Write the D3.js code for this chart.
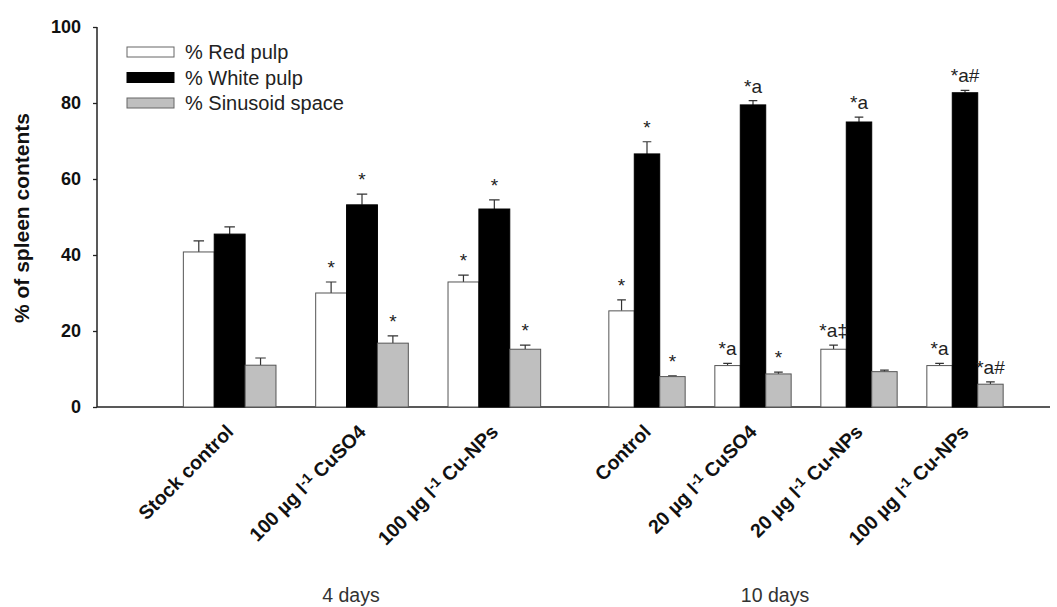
<!DOCTYPE html>
<html>
<head>
<meta charset="utf-8">
<script src="https://cdn.jsdelivr.net/npm/d3@7"></script>
<style>
  body { margin: 0; background: #fff; }
  svg { font-family: "Liberation Sans", Arial, sans-serif; }
</style>
</head>
<body>
<div id="chart"></div>
<script>
/// DATA ///
const categories = [
  "Stock control", "100 µg l-1 CuSO4", "100 µg l-1 Cu-NPs",
  "Control", "20 µg l-1 CuSO4", "20 µg l-1 Cu-NPs", "100 µg l-1 Cu-NPs"
];
const periods = ["4 days", "10 days"];
const periodOf = [0, 0, 0, 1, 1, 1, 1];

const seriesNames = ["% Red pulp", "% White pulp", "% Sinusoid space"];
const redPulp = [40.8, 30.0, 32.9, 25.3, 10.9, 15.2, 10.9];
const redPulpErr = [2.9, 2.9, 1.8, 2.9, 0.6, 1.1, 0.6];
const whitePulp = [45.5, 53.2, 52.1, 66.6, 79.5, 75.0, 82.7];
const whitePulpErr = [1.9, 2.8, 2.4, 3.2, 1.1, 1.3, 0.6];
const sinusoid = [11.0, 16.8, 15.2, 8.0, 8.7, 9.3, 6.0];
const sinusoidErr = [1.9, 1.9, 1.1, 0.2, 0.5, 0.4, 0.6];

const redPulpMarks = ["", "*", "*", "*", "*a", "*a‡", "*a"];
const whitePulpMarks = ["", "*", "*", "*", "*a", "*a", "*a#"];
const sinusoidMarks = ["", "*", "*", "*", "*", "", "*a#"];

const yTicks = [0, 20, 40, 60, 80, 100];

const keys = ["red", "white", "sinus"];
const values = { red: redPulp, white: whitePulp, sinus: sinusoid };
const errs = { red: redPulpErr, white: whitePulpErr, sinus: sinusoidErr };
const marks = { red: redPulpMarks, white: whitePulpMarks, sinus: sinusoidMarks };
const fills = { red: "#ffffff", white: "#000000", sinus: "#bfbfbf" };

const W = 1057, H = 607;

const svg = d3
  .select("#chart")
  .append("svg")
  .attr("width", W)
  .attr("height", H);

// y scale
const y = d3.scaleLinear().domain([0, 100]).range([407, 27]);

// two separate band scales, one per period block
const idx4 = categories.map((c, i) => i).filter((i) => periodOf[i] === 0);
const idx10 = categories.map((c, i) => i).filter((i) => periodOf[i] === 1);

const x4 = d3
  .scaleBand()
  .domain(idx4)
  .range([163.5, 560.5])
  .paddingInner(0.3)
  .paddingOuter(0.15);

const x10 = d3
  .scaleBand()
  .domain(idx10)
  .range([594, 1018])
  .paddingInner(0.28)
  .paddingOuter(0.14);

const xScaleFor = (i) => (periodOf[i] === 0 ? x4 : x10);

// y axis
const yAxis = svg
  .append("g")
  .attr("transform", "translate(97,0)")
  .call(d3.axisLeft(y).tickValues(yTicks).tickSize(4).tickPadding(12));
yAxis.select(".domain").attr("stroke", "#222").attr("stroke-width", 1.5).attr("d", `M0,${y(100)}V${y(0)}`);
yAxis.selectAll(".tick line").attr("stroke", "#222").attr("stroke-width", 1.3);
yAxis
  .selectAll("text")
  .style("font-size", "18px")
  .style("font-weight", "bold")
  .attr("fill", "#111");

// x baseline
svg
  .append("line")
  .attr("x1", 97)
  .attr("x2", 1050)
  .attr("y1", y(0))
  .attr("y2", y(0))
  .attr("stroke", "#222")
  .attr("stroke-width", 1.5);

// y label
svg
  .append("text")
  .attr("transform", `translate(29,218) rotate(-90)`)
  .attr("text-anchor", "middle")
  .style("font-size", "21px")
  .style("font-weight", "bold")
  .attr("fill", "#111")
  .text("% of spleen contents");

// bars
const bars = [];
categories.forEach((c, i) => {
  const xs = xScaleFor(i);
  const x1 = d3.scaleBand().domain(keys).range([0, xs.bandwidth()]);
  keys.forEach((k) => {
    bars.push({
      key: k,
      x: xs(i) + x1(k),
      w: x1.bandwidth(),
      value: values[k][i],
      err: errs[k][i],
      mark: marks[k][i],
    });
  });
});

const barG = svg.append("g");

// error bars (drawn first so bar covers lower half)
barG
  .selectAll("path.err")
  .data(bars)
  .join("path")
  .attr("class", "err")
  .attr("fill", "none")
  .attr("stroke", "#333")
  .attr("stroke-width", 1.2)
  .attr("d", (d) => {
    const cx = d.x + d.w / 2;
    const half = d.w * 0.17;
    return `M${cx},${y(d.value)}V${y(d.value + d.err)}M${cx - half},${y(d.value + d.err)}H${cx + half}`;
  });

barG
  .selectAll("rect")
  .data(bars)
  .join("rect")
  .attr("x", (d) => d.x)
  .attr("y", (d) => y(d.value))
  .attr("width", (d) => d.w)
  .attr("height", (d) => y(0) - y(d.value))
  .attr("fill", (d) => fills[d.key])
  .attr("stroke", (d) => (d.key === "white" ? "#000" : "#555"))
  .attr("stroke-width", 1);

// significance marks
barG
  .selectAll("text.mark")
  .data(bars.filter((d) => d.mark))
  .join("text")
  .attr("class", "mark")
  .attr("x", (d) => d.x + d.w / 2)
  .attr("y", (d) => y(d.value + d.err) - 8)
  .attr("text-anchor", "middle")
  .style("font-size", "19px")
  .attr("fill", "#222")
  .text((d) => d.mark);

// x category labels, rotated, with superscript -1
const labelG = svg.append("g");
categories.forEach((c, i) => {
  const xs = xScaleFor(i);
  const cx = xs(i) + xs.bandwidth() / 2;
  const t = labelG
    .append("text")
    .attr("transform", `translate(${cx + 5},${y(0) + 26}) rotate(-45)`)
    .attr("text-anchor", "end")
    .style("font-size", "19.5px")
    .style("font-weight", "bold")
    .attr("fill", "#111");
  const parts = c.split("l-1");
  if (parts.length === 1) {
    t.text(c);
  } else {
    t.append("tspan").text(parts[0] + "l");
    t.append("tspan").attr("dy", -6).style("font-size", "14px").text("-1");
    t.append("tspan").attr("dy", 6).text(parts[1]);
  }
});

// period labels
periods.forEach((p, pi) => {
  svg
    .append("text")
    .attr("x", pi === 0 ? 351 : 775)
    .attr("y", 602)
    .attr("text-anchor", "middle")
    .style("font-size", "19.5px")
    .attr("fill", "#333")
    .text(p);
});

// legend
const legend = svg.append("g").attr("transform", "translate(127,47)");
seriesNames.forEach((name, i) => {
  const row = legend.append("g").attr("transform", `translate(0,${i * 25.5})`);
  row
    .append("rect")
    .attr("width", 47)
    .attr("height", 10)
    .attr("fill", fills[keys[i]])
    .attr("stroke", keys[i] === "white" ? "#000" : "#666")
    .attr("stroke-width", 1);
  row
    .append("text")
    .attr("x", 58)
    .attr("y", 12)
    .style("font-size", "20px")
    .attr("fill", "#222")
    .text(name);
});
</script>
</body>
</html>
